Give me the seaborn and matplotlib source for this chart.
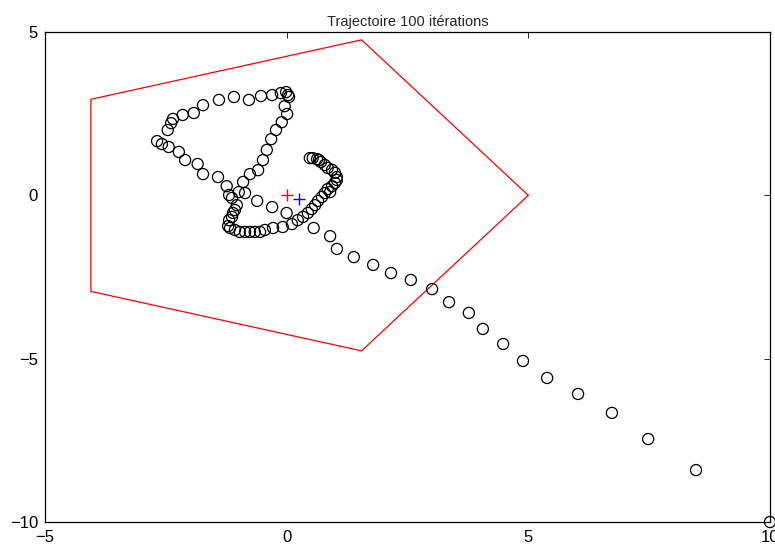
import matplotlib
matplotlib.use('Agg')
import matplotlib.pyplot as plt
import seaborn as sns
import pandas as pd

# trajectory points
traj_x = [10.0, 8.47, 7.48, 6.73, 6.03, 5.39, 4.89, 4.48, 4.06, 3.77,
          3.36, 3.01, 2.57, 2.16, 1.79, 1.39, 1.04, 0.90, 0.56, 0.00,
          -0.30, -0.61, -0.86, -0.99, -1.24, -1.42, -1.73, -1.84, -2.10, -2.23,
          -2.44, -2.58, -2.68, -2.46, -2.39, -2.35, -2.15, -1.92, -1.73, -1.40,
          -1.09, -0.78, -0.53, -0.30, -0.12, -0.01, 0.03, 0.05, -0.04, 0.01,
          -0.10, -0.22, -0.32, -0.41, -0.49, -0.59, -0.76, -0.90, -1.19, -1.13,
          -1.03, -1.07, -1.11, -1.13, -1.19, -1.21, -1.17, -1.07, -0.97, -0.86,
          -0.76, -0.66, -0.55, -0.45, -0.28, -0.08, 0.11, 0.23, 0.34, 0.44,
          0.52, 0.59, 0.65, 0.73, 0.79, 0.85, 0.94, 1.00, 1.04, 1.04,
          1.00, 0.94, 0.85, 0.79, 0.71, 0.63, 0.54, 0.48, 0.90, 0.67]
traj_y = [-10.0, -8.41, -7.46, -6.66, -6.08, -5.59, -5.07, -4.55, -4.09, -3.60,
          -3.27, -2.87, -2.59, -2.38, -2.13, -1.89, -1.64, -1.25, -1.00, -0.54,
          -0.36, -0.17, 0.07, 0.10, 0.28, 0.56, 0.65, 0.96, 1.08, 1.33,
          1.48, 1.57, 1.66, 2.00, 2.21, 2.34, 2.46, 2.52, 2.76, 2.92,
          3.01, 2.92, 3.04, 3.07, 3.13, 3.16, 3.07, 3.01, 2.73, 2.49,
          2.24, 2.00, 1.72, 1.39, 1.08, 0.77, 0.65, 0.41, 0.01, -0.08,
          -0.30, -0.45, -0.54, -0.66, -0.76, -0.94, -1.00, -1.06, -1.12, -1.12,
          -1.12, -1.12, -1.12, -1.06, -1.00, -0.97, -0.88, -0.76, -0.66, -0.54,
          -0.42, -0.30, -0.17, -0.05, 0.07, 0.19, 0.28, 0.38, 0.47, 0.56,
          0.69, 0.78, 0.84, 0.93, 1.02, 1.11, 1.14, 1.14, 0.10, 1.08]

# pentagon (closed)
pent_x = [5.0, 1.55, -4.05, -4.05, 1.55, 5.0]
pent_y = [0.0, 4.76, 2.94, -2.94, -4.76, 0.0]

target = (0.0, 0.0)
mean_pt = (0.25, -0.12)

xticks = [-5, 0, 5, 10]
yticks = [-10, -5, 0, 5]

sns.set_style('white')
plt.rcParams['font.family'] = ['Liberation Sans', 'DejaVu Sans']

fig = plt.figure(figsize=(7.75, 5.48), dpi=100)
ax = fig.add_axes([0.058, 0.0474, 0.9355, 0.8942])

pent = pd.DataFrame({'x': pent_x, 'y': pent_y})
sns.lineplot(data=pent, x='x', y='y', sort=False, estimator=None,
             color='#ff0000', linewidth=0.9, ax=ax)

traj = pd.DataFrame({'x': traj_x, 'y': traj_y})
sns.scatterplot(data=traj, x='x', y='y', marker='o', s=64,
                facecolor='none', edgecolor='black', linewidth=0.9,
                ax=ax, clip_on=False, zorder=3)

ax.plot(*target, marker='+', color='#ff0000', markersize=9, mew=1.0,
        linestyle='none', zorder=4)
ax.plot(*mean_pt, marker='+', color='#0000ff', markersize=9, mew=1.0,
        linestyle='none', zorder=4)

ax.set_xlim(-5, 10)
ax.set_ylim(-10, 5)
ax.set_xticks(xticks)
ax.set_yticks(yticks)
ax.set_xticklabels([str(t).replace('-', '\u2212') for t in xticks])
ax.set_yticklabels([str(t).replace('-', '\u2212') for t in yticks])
ax.tick_params(direction='in', length=4, width=0.6, top=True, right=True,
               labelsize=12, colors='black')
ax.tick_params(axis='x', pad=6)
ax.tick_params(axis='y', pad=5)
ax.set_xlabel('')
ax.set_ylabel('')
for s in ax.spines.values():
    s.set_visible(True)
    s.set_color('black')
    s.set_linewidth(0.9)

ax.set_title('Trajectoire 100 itérations', fontsize=10.5, pad=4)

fig.savefig('out.png', dpi=100)
plt.close()
